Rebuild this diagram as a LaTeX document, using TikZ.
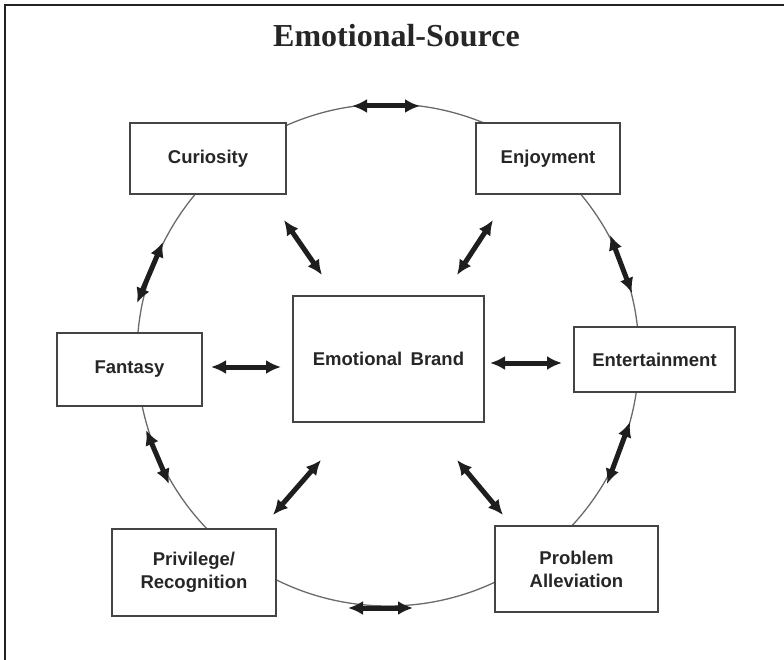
\documentclass[tikz,border=0pt]{standalone}
\usepackage{fontspec}
\setmainfont{Liberation Sans}
\newfontfamily\titlefont{Liberation Serif}
\usetikzlibrary{arrows.meta}

\definecolor{framecol}{HTML}{222222}
\definecolor{boxgray}{HTML}{444444}
\definecolor{ringgray}{HTML}{6A6A6A}
\definecolor{arrowblack}{HTML}{1E1E1E}
\definecolor{textcol}{HTML}{262626}

\begin{document}
\begin{tikzpicture}[x=1pt,y=-1pt,
  box/.style={draw=boxgray,line width=1.4pt,fill=white,inner sep=0pt,
    text=textcol,align=center,font=\fontsize{18.5}{23}\selectfont\bfseries},
  link/.style={draw=arrowblack,line width=5pt,
    {Latex[length=15pt,width=14pt]}-{Latex[length=15pt,width=14pt]}},
  ring/.style={draw=ringgray,line width=1.3pt,circle,inner sep=0pt}]

\useasboundingbox (0,0) rectangle (784,660);

% open frame: left and top edges only
\draw[framecol,line width=2pt] (5,660) -- (5,5) -- (784,5);

% title
\node[anchor=base,text=textcol,font=\titlefont\fontsize{32}{36}\selectfont\bfseries]
  (title) at (396.5,47) {Emotional-Source};

% the ring linking the six sources
\node[ring,minimum size=502pt] (ring) at (388,355) {};

% source boxes
\node[box,minimum width=156pt,minimum height=71pt] (curiosity) at (208,158.5) {Curiosity};
\node[box,minimum width=144pt,minimum height=71pt] (enjoyment) at (548,158.5) {Enjoyment};
\node[box,minimum width=145pt,minimum height=73pt] (fantasy) at (129.5,369.5) {Fantasy};
\node[box,minimum width=161pt,minimum height=65pt] (entertainment) at (654.5,359.5) {Entertainment};
\node[box,minimum width=164pt,minimum height=87pt] (privilege) at (194,572.5) {Privilege/\\Recognition};
\node[box,minimum width=163pt,minimum height=86pt] (problem) at (576.5,569) {Problem\\Alleviation};

% centre box
\node[box,minimum width=191pt,minimum height=126pt] (brand) at (388.5,359) {Emotional\hspace{0.45em}Brand};

% arrow end points on the ring
\coordinate (t1) at (352,106);  \coordinate (t2) at (420,106);
\coordinate (b1) at (348,608);  \coordinate (b2) at (413,608);
\coordinate (ul1) at (163,242); \coordinate (ul2) at (137,303);
\coordinate (ll1) at (146,430); \coordinate (ll2) at (169,484);
\coordinate (ur1) at (610,235); \coordinate (ur2) at (632,293);
\coordinate (lr1) at (630,422); \coordinate (lr2) at (607,484);

% arrow end points towards the centre
\coordinate (cb1) at (284,220); \coordinate (cb2) at (322,275);
\coordinate (eb1) at (493,220); \coordinate (eb2) at (457,275);
\coordinate (fb1) at (211,367); \coordinate (fb2) at (281,367);
\coordinate (be1) at (490,363); \coordinate (be2) at (562,363);
\coordinate (pb1) at (273,515); \coordinate (pb2) at (321,460);
\coordinate (bp1) at (457,460); \coordinate (bp2) at (503,515);

% arrows along the ring
\draw[link] (t1) -- (t2);
\draw[link] (b1) -- (b2);
\draw[link] (ul1) -- (ul2);
\draw[link] (ll1) -- (ll2);
\draw[link] (ur1) -- (ur2);
\draw[link] (lr1) -- (lr2);

% arrows to and from the brand
\draw[link] (cb1) -- (cb2);
\draw[link] (eb1) -- (eb2);
\draw[link] (fb1) -- (fb2);
\draw[link] (be1) -- (be2);
\draw[link] (pb1) -- (pb2);
\draw[link] (bp1) -- (bp2);

\end{tikzpicture}
\end{document}
